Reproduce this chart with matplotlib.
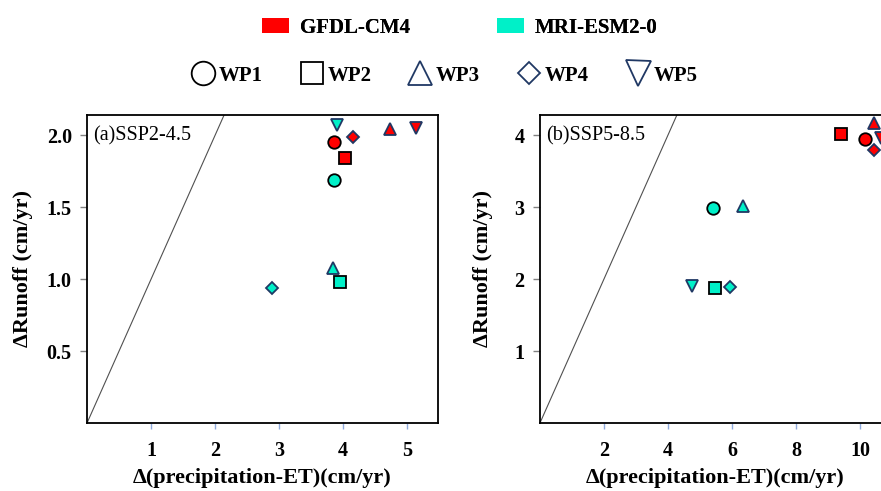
import matplotlib.pyplot as plt
from matplotlib.patches import Patch
from matplotlib.lines import Line2D

plt.rcParams['font.family'] = ['Liberation Serif', 'DejaVu Serif']

models = ['GFDL-CM4', 'MRI-ESM2-0']
model_colors = ['#ff0000', '#00f0c8']
wps = ['WP1', 'WP2', 'WP3', 'WP4', 'WP5']
wp_markers = ['o', 's', '^', 'D', 'v']
wp_edges = ['black', 'black', '#203864', '#203864', '#203864']

# SSP2-4.5: x = d(precipitation-ET), y = dRunoff, per WP1..WP5
ssp245_x = {'GFDL-CM4': [3.86, 4.03, 4.73, 4.15, 5.13],
            'MRI-ESM2-0': [3.86, 3.95, 3.84, 2.88, 3.91]}
ssp245_y = {'GFDL-CM4': [1.95, 1.84, 2.04, 1.99, 2.05],
            'MRI-ESM2-0': [1.69, 0.98, 1.08, 0.94, 2.07]}
# SSP5-8.5
ssp585_x = {'GFDL-CM4': [10.15, 9.42, 10.43, 10.43, 10.65],
            'MRI-ESM2-0': [5.40, 5.48, 6.36, 5.93, 4.76]}
ssp585_y = {'GFDL-CM4': [3.95, 4.02, 4.17, 3.79, 3.96],
            'MRI-ESM2-0': [2.99, 1.88, 3.01, 1.89, 1.91]}

data_ms = [9, 8.5, 9, 6.2, 9]
legend_ms = [17, 15.5, 17.5, 11, 18]

fig = plt.figure(figsize=(8.81, 4.91), dpi=100)
ax1 = fig.add_axes([0.0988, 0.1385, 0.3984, 0.6273])
ax2 = fig.add_axes([0.6129, 0.1385, 0.3984, 0.6273])

panels = [(ax1, ssp245_x, ssp245_y, '(a)SSP2-4.5', (0, 5.48), (0, 2.14),
           [1, 2, 3, 4, 5], [0.5, 1.0, 1.5, 2.0], '%.1f', -0.154),
          (ax2, ssp585_x, ssp585_y, '(b)SSP5-8.5', (0, 10.97), (0, 4.28),
           [2, 4, 6, 8, 10], [1, 2, 3, 4], '%d', -0.134)]

for ax, xs, ys, label, xl, yl, xt, yt, fmt, ylab_x in panels:
    # 1:1 line
    ax.plot([0, 10], [0, 10], color='#505050', lw=0.8, zorder=1)
    for m, c in zip(models, model_colors):
        for i in range(len(wps)):
            ax.plot(xs[m][i], ys[m][i], marker=wp_markers[i], ms=data_ms[i],
                    mfc=c, mec=wp_edges[i], mew=1.3, ls='none', zorder=3,
                    clip_on=False)
    ax.set_xlim(*xl)
    ax.set_ylim(*yl)
    ax.set_xticks(xt)
    ax.set_yticks(yt)
    ax.set_yticklabels([fmt % v for v in yt])
    ax.tick_params(axis='x', color='#8faadc', length=4, width=1, pad=9)
    ax.tick_params(axis='y', color='#808080', length=5, width=1, pad=6)
    for t in ax.get_xticklabels() + ax.get_yticklabels():
        t.set_fontweight('bold')
        t.set_fontsize(14.5)
    for s in ax.spines.values():
        s.set_linewidth(1.3)
    ax.set_xlabel('Δ(precipitation-ET)(cm/yr)', fontsize=16, fontweight='bold')
    ax.set_ylabel('ΔRunoff (cm/yr)', fontsize=16, fontweight='bold')
    ax.xaxis.set_label_coords(0.5, -0.145)
    ax.yaxis.set_label_coords(ylab_x, 0.5)
    ax.text(0.017, 0.965, label, transform=ax.transAxes, fontsize=14.5,
            va='top', ha='left')

model_handles = [Patch(facecolor=c, edgecolor='none') for c in model_colors]
leg1 = fig.legend(model_handles, models, loc='center', ncol=2,
                  bbox_to_anchor=(0.522, 0.943), frameon=False,
                  prop={'weight': 'bold', 'size': 15},
                  handlelength=1.3, handleheight=0.7, columnspacing=4.2,
                  handletextpad=0.5)
fig.add_artist(leg1)

wp_handles = [Line2D([], [], marker=mk, ls='none', ms=s, mfc='white',
                     mec=e, mew=1.3)
              for mk, e, s in zip(wp_markers, wp_edges, legend_ms)]
fig.legend(wp_handles, wps, loc='center', ncol=5,
           bbox_to_anchor=(0.504, 0.846), frameon=False,
           prop={'weight': 'bold', 'size': 15},
           handlelength=1.2, columnspacing=1.75, handletextpad=0.15)

fig.savefig('out.png', dpi=100)
